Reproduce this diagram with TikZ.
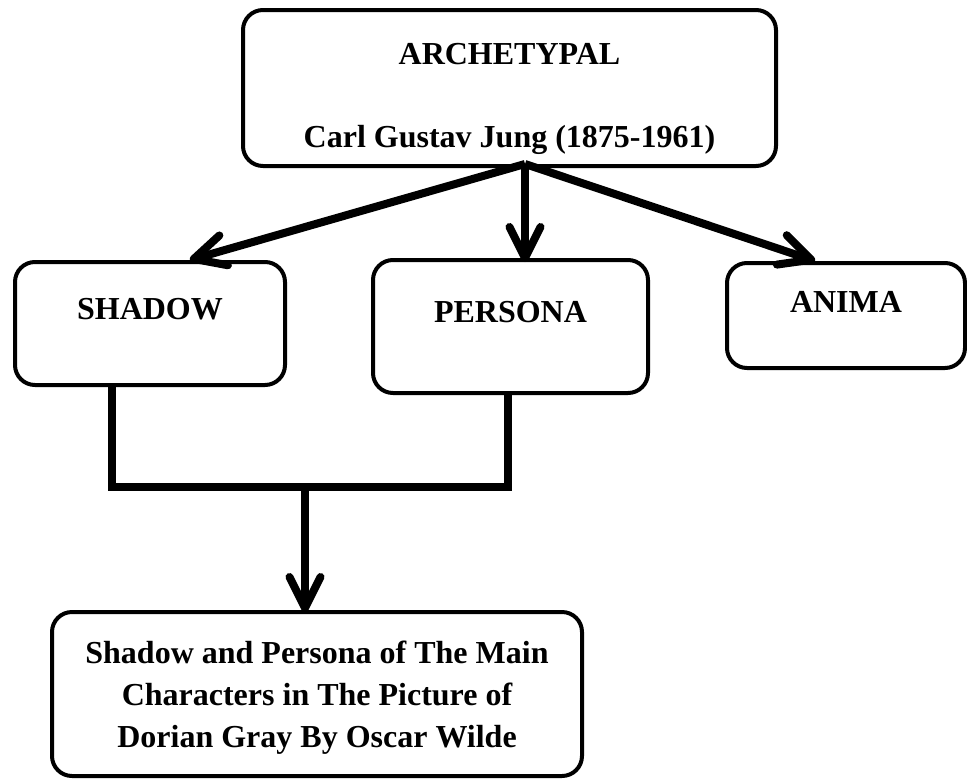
\documentclass[tikz,border=0pt]{standalone}
\usepackage{fontspec}
\setmainfont{Liberation Serif}
\usetikzlibrary{arrows.meta}
\tikzset{
  box/.style={draw=black, line width=4pt, rounded corners=20pt, fill=white,
    inner sep=0pt, font=\fontsize{32}{38}\selectfont\bfseries, align=center},
  arr/.style={line width=8pt, -{Straight Barb[length=31pt,width=31pt,round]}},
  bracketline/.style={line width=7.5pt, line join=miter}
}
\begin{document}
\begin{tikzpicture}[x=1pt,y=-1pt]
\useasboundingbox (0,0) rectangle (967,780);
% boxes
\node[box, minimum width=533pt, minimum height=156pt, text height=124pt, text depth=6pt,
  font=\fontsize{32}{83}\selectfont\bfseries] (top) at (509.5,88)
  {ARCHETYPAL\\Carl Gustav Jung (1875-1961)};
\node[box, minimum width=270pt, minimum height=123pt, text height=21pt, text depth=30pt]
  (shadow) at (150,323.5) {SHADOW};
\node[box, minimum width=275pt, minimum height=133pt, text height=21pt, text depth=30pt]
  (persona) at (510.5,326.5) {PERSONA};
\node[box, minimum width=238pt, minimum height=105pt, text height=21pt, text depth=28pt]
  (anima) at (846,315.5) {ANIMA};
\node[box, minimum width=530pt, minimum height=164pt, text height=113pt, text depth=7pt,
  font=\fontsize{32}{42}\selectfont\bfseries] (bottom) at (317,694)
  {Shadow and Persona of The Main\\Characters in The Picture of\\Dorian Gray By Oscar Wilde};
% arrows from the top box
\coordinate (src) at (525,164);
\draw[arr] (src) -- ([xshift=40pt]shadow.north);
\draw[arr] (src) -- ([yshift=-4pt]src |- persona.north);
\draw[arr] (src) -- ([xshift=-31pt]anima.north);
% bracket joining shadow and persona
\draw[bracketline] ([xshift=-38pt]shadow.south) -- ++(0,100) -| ([xshift=-2.5pt]persona.south);
\coordinate (join) at (305,485);
\draw[arr] (join) -- ([yshift=-2pt]join |- bottom.north);
\end{tikzpicture}
\end{document}
